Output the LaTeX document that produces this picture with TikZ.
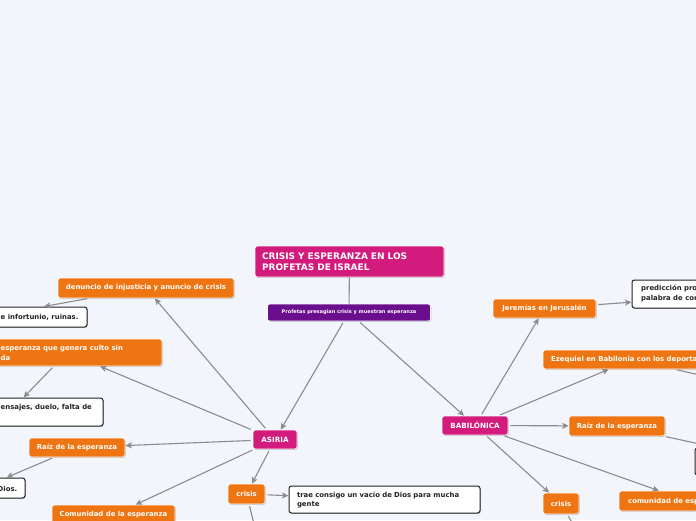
\documentclass[tikz,border=0pt]{standalone}
\usepackage{fontspec}
\setmainfont{DejaVu Sans}
\usetikzlibrary{arrows.meta,shadows}
\definecolor{bg}{HTML}{F3F5FD}
\definecolor{pinkc}{HTML}{D21B7D}
\definecolor{purpc}{HTML}{6A0E8E}
\definecolor{orangec}{HTML}{EE7511}
\definecolor{linec}{HTML}{8C8C8C}
\definecolor{darkc}{HTML}{222222}
\tikzset{
  base/.style={rounded corners=2.5pt, inner sep=0pt,
    font=\fontsize{6.9}{9}\selectfont\bfseries,
    drop shadow={shadow xshift=0.8pt, shadow yshift=-0.9pt, opacity=0.22, fill=black}},
  obox/.style={base, fill=orangec, draw=white, line width=0.6pt, text=white},
  pbox/.style={base, fill=pinkc, draw=white, line width=0.6pt, text=white},
  vbox/.style={base, fill=purpc, draw=white, line width=0.6pt, text=white},
  wbox/.style={base, fill=white, draw=darkc, line width=1pt, text=darkc},
  wtxt/.style={inner sep=0pt, font=\fontsize{6.9}{9.5}\selectfont\bfseries, text=white, align=left},
  btxt/.style={inner sep=0pt, font=\fontsize{6.9}{9.5}\selectfont\bfseries, text=darkc, align=left},
  conn/.style={draw=linec, line width=1.1pt, -{Stealth[length=6.5pt,width=6pt,inset=1.5pt]}, shorten <=2pt},
  plain/.style={draw=linec, line width=1.1pt}
}
\begin{document}
\begin{tikzpicture}[x=1pt,y=-1pt]
\useasboundingbox (0,0) rectangle (696,520);
\fill[bg] (0,0) rectangle (696,520);
\clip (0,0) rectangle (696,520);

% central
\node[pbox, minimum width=189pt, minimum height=31pt, text width=175pt, inner xsep=7pt, align=left,
  font=\fontsize{9}{11.5}\selectfont\bfseries] (title) at (349.5,261.5)
  {CRISIS Y ESPERANZA EN LOS\\PROFETAS DE ISRAEL};
\node[vbox, minimum width=163pt, minimum height=17pt, font=\fontsize{5}{6}\selectfont\bfseries] (purp) at (349,312.5)
  {Profetas presagian crisis y muestran esperanza};

\node[pbox, minimum width=44pt, minimum height=19pt, font=\fontsize{7.2}{9}\selectfont\bfseries] (asiria) at (275,439.5) {ASIRIA};
\node[pbox, minimum width=66pt, minimum height=19pt, font=\fontsize{7.2}{9}\selectfont\bfseries] (bab) at (475,425.5) {BABILÓNICA};

% ASIRIA branch
\node[obox, minimum width=176pt, minimum height=20pt] (denuncio) at (146,288) {denuncio de injusticia y anuncio de crisis};
\node[wbox, minimum width=202pt, minimum height=20pt] (infort) at (-14,317) {};
\node[btxt, anchor=west] (infortt) at (0.5,317.5) {e infortunio, ruinas.};

\node[obox, minimum width=190pt, minimum height=27pt] (esper) at (67,352.5) {};
\node[wtxt, anchor=west] (espert) at (0.5,353) {esperanza que genera culto sin\\da};

\node[wbox, minimum width=187pt, minimum height=28pt] (ensaj) at (9.5,412) {};
\node[btxt, anchor=west] (ensajt) at (0.5,408) {ensajes, duelo, falta de};

\node[obox, minimum width=96pt, minimum height=19pt] (raizA) at (77,447.5) {Raíz de la esperanza};
\node[wbox, minimum width=86pt, minimum height=20pt] (dios) at (-18,488) {};
\node[btxt, anchor=east] (diost) at (17.5,488.5) {Dios.};

\node[obox, minimum width=123pt, minimum height=20pt] (comA) at (113.5,515) {Comunidad de la esperanza};

\node[obox, minimum width=37pt, minimum height=20pt] (crisA) at (246.5,494) {crisis};
\node[wbox, minimum width=191pt, minimum height=27pt, text width=175pt, inner xsep=8pt, align=left,
  font=\fontsize{6.9}{9}\selectfont\bfseries] (trae) at (384.5,499.5)
  {trae consigo un vacío de Dios para mucha\\gente};
\coordinate (crisAout) at (258,540);

% BABILONICA branch
\node[obox, minimum width=103pt, minimum height=19pt] (jer) at (544.5,308.5) {Jeremías en Jerusalén};
\node[wbox, minimum width=224pt, minimum height=28pt] (pred) at (744,294) {};
\node[btxt, anchor=north west] (predt) at (641,285) {predicción pro\\palabra de con};

\node[obox, minimum width=178pt, minimum height=19pt] (ez) at (632,359.5) {};
\node[wtxt, anchor=west] (ezt) at (551,360) {Ezequiel en Babilonia con los deporta};
\coordinate (ezout) at (800,398);

\node[obox, minimum width=96pt, minimum height=20pt] (raizB) at (617,426) {Raíz de la esperanza};
\node[wbox, minimum width=170pt, minimum height=27pt] (rbox) at (780,461.5) {};

\node[obox, minimum width=138pt, minimum height=20pt] (comB) at (688,501) {};
\node[wtxt, anchor=west] (comBt) at (628,501.5) {comunidad de esp};

\node[obox, minimum width=36pt, minimum height=21pt] (crisB) at (561,503.5) {crisis};
\coordinate (crisBout) at (585,545);

% connectors
\draw[plain] (title) -- (purp);
\draw[conn] (purp) -- (asiria);
\draw[conn] (purp) -- (bab);

\draw[conn] (asiria) -- (denuncio);
\draw[conn] (denuncio) -- (infort);
\draw[conn] (asiria) -- (esper);
\draw[conn] (esper) -- (ensaj);
\draw[conn] (asiria) -- (raizA);
\draw[conn] (raizA) -- (dios);
\draw[conn] (asiria) -- (comA);
\draw[conn] (asiria) -- (crisA);
\draw[conn] (crisA) -- (trae);
\draw[conn] (crisA) -- (crisAout);

\draw[conn] (bab) -- (jer);
\draw[conn] (jer) -- (pred);
\draw[conn] (bab) -- (ez);
\draw[conn] (ez) -- (ezout);
\draw[conn] (bab) -- (raizB);
\draw[conn] (raizB) -- (rbox);
\draw[conn] (bab) -- (comB);
\draw[conn] (bab) -- (crisB);
\draw[conn] (crisB) -- (crisBout);
\end{tikzpicture}
\end{document}
